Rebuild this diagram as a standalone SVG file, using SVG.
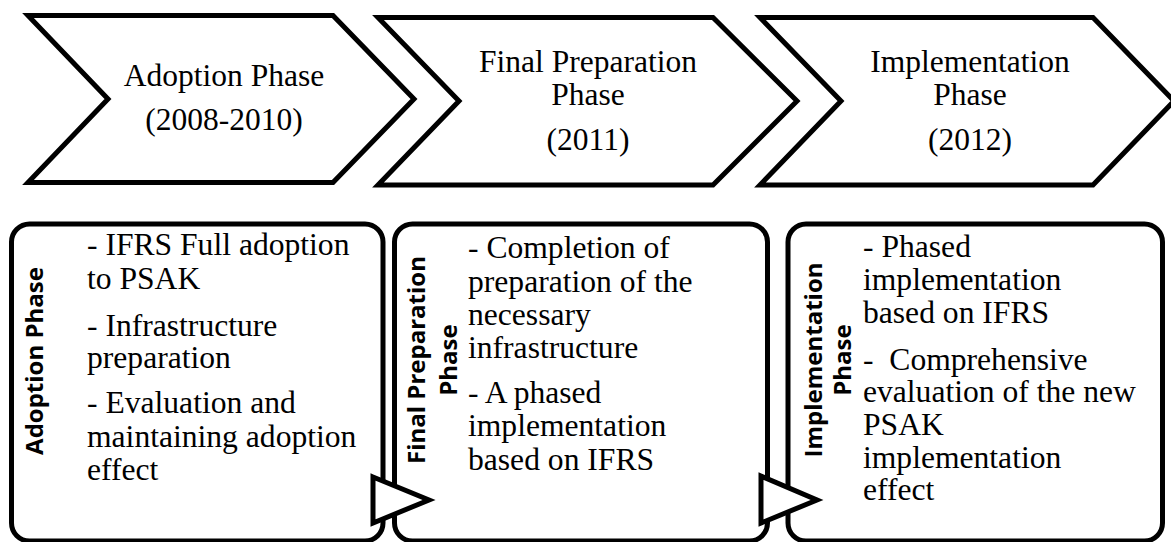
<svg xmlns="http://www.w3.org/2000/svg" width="1171" height="542" viewBox="0 0 1171 542">
<style>
.chev{fill:#fff;stroke:#000;stroke-width:5;stroke-linejoin:miter}
.box{fill:#fff;stroke:#000;stroke-width:5}
.tri{fill:#fff;stroke:#000;stroke-width:5;stroke-linejoin:miter}
.ct{font-family:"Liberation Serif","Times New Roman",serif;font-size:31.5px;fill:#000;text-anchor:middle}
.bt{font-family:"Liberation Serif","Times New Roman",serif;font-size:31.6px;fill:#000;white-space:pre}
.vl{font-family:"Open Sans","Noto Sans",sans-serif;font-weight:bold;font-size:24px;fill:#000;text-anchor:middle}
</style>
<rect width="1171" height="542" fill="#fff"/>
<g id="chevron1">
<polygon class="chev" points="28,15.5 333,15.5 414,99 333,182.5 28,182.5 108,99"/>
<text class="ct" x="224" y="86">Adoption Phase</text>
<text class="ct" x="224" y="130">(2008-2010)</text>
</g>
<g id="chevron2">
<polygon class="chev" points="378,17.5 713,17.5 797,101 713,185 378,185 459,101"/>
<text class="ct" x="588" y="72">Final Preparation</text>
<text class="ct" x="588" y="105">Phase</text>
<text class="ct" x="588" y="150">(2011)</text>
</g>
<g id="chevron3">
<polygon class="chev" points="760,17.5 1093,17.5 1174,101 1093,185 760,185 841,101"/>
<text class="ct" x="970" y="72">Implementation</text>
<text class="ct" x="970" y="105">Phase</text>
<text class="ct" x="970" y="150">(2012)</text>
</g>
<g id="box1">
<rect class="box" x="11.5" y="224" width="371.5" height="317" rx="18" ry="18"/>
<text class="vl" transform="translate(43,361) rotate(-90)">Adoption Phase</text>
<text class="bt" x="87" y="255">- IFRS Full adoption</text>
<text class="bt" x="87" y="289">to PSAK</text>
<text class="bt" x="87" y="336">- Infrastructure</text>
<text class="bt" x="87" y="368">preparation</text>
<text class="bt" x="87" y="413">- Evaluation and</text>
<text class="bt" x="87" y="447">maintaining adoption</text>
<text class="bt" x="87" y="480">effect</text>
</g>
<g id="box2">
<rect class="box" x="394.5" y="224" width="373" height="317" rx="18" ry="18"/>
<text class="vl" transform="translate(425,360) rotate(-90)">Final Preparation</text>
<text class="vl" transform="translate(457,360) rotate(-90)">Phase</text>
<text class="bt" x="468" y="258">- Completion of</text>
<text class="bt" x="468" y="292">preparation of the</text>
<text class="bt" x="468" y="325">necessary</text>
<text class="bt" x="468" y="358">infrastructure</text>
<text class="bt" x="468" y="403">- A phased</text>
<text class="bt" x="468" y="436">implementation</text>
<text class="bt" x="468" y="470">based on IFRS</text>
</g>
<g id="box3">
<rect class="box" x="788" y="224" width="374.5" height="317" rx="18" ry="18"/>
<text class="vl" transform="translate(822,360) rotate(-90)">Implementation</text>
<text class="vl" transform="translate(851,360) rotate(-90)">Phase</text>
<text class="bt" x="863" y="257">- Phased</text>
<text class="bt" x="863" y="290">implementation</text>
<text class="bt" x="863" y="323">based on IFRS</text>
<text class="bt" x="863" y="370">-  Comprehensive</text>
<text class="bt" x="863" y="402">evaluation of the new</text>
<text class="bt" x="863" y="435">PSAK</text>
<text class="bt" x="863" y="468">implementation</text>
<text class="bt" x="863" y="500">effect</text>
</g>
<g id="connectors">
<polygon class="tri" points="373,477 429,500 373,523"/>
<polygon class="tri" points="761,476 817,500 761,523"/>
</g>
</svg>
